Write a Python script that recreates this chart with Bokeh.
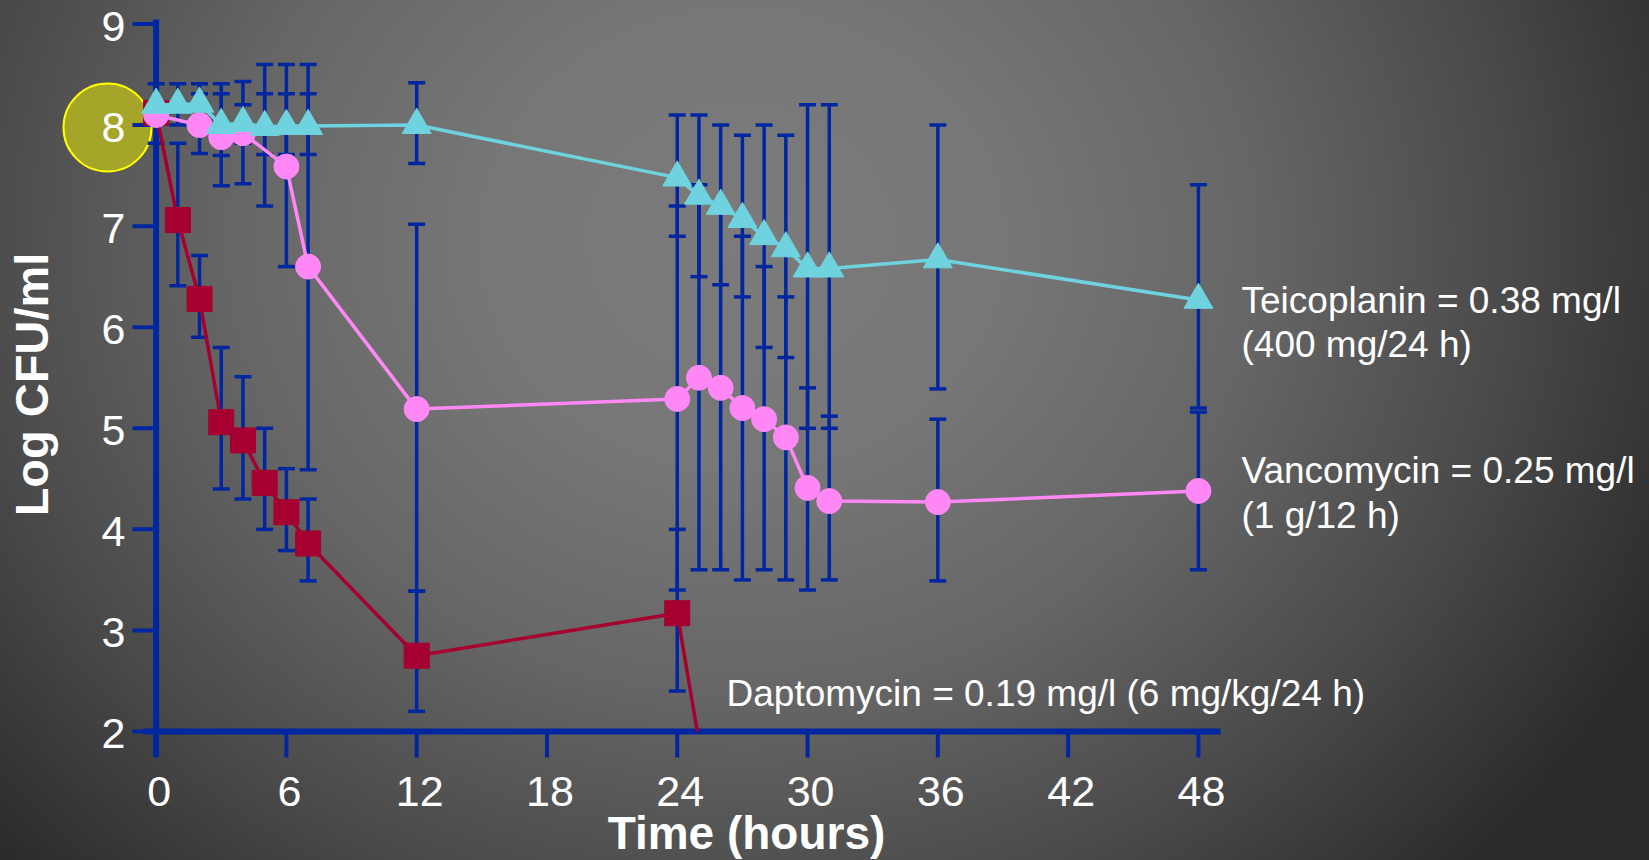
import numpy as np
from bokeh.plotting import figure
from bokeh.models import Range1d
from bokeh.core.properties import value
from bokeh.embed import file_html
from bokeh.resources import INLINE

# ---------------- data ----------------
x_ticks = [0, 6, 12, 18, 24, 30, 36, 42, 48]
y_ticks = [2, 3, 4, 5, 6, 7, 8, 9]

teic_t = [0, 1, 2, 3, 4, 5, 6, 7, 12, 24, 25, 26, 27, 28, 29, 30, 31, 36, 48]
teic_v = [8.2, 8.2, 8.21, 8.0, 8.02, 7.98, 7.99, 7.99, 8.0, 7.48, 7.3, 7.2, 7.07, 6.9, 6.78, 6.58, 6.58, 6.67, 6.27]
teic_err_t = [1, 2, 3, 4, 5, 6, 7, 12, 24, 25, 26, 27, 28, 29, 30, 31, 36, 48]
teic_err_lo = [8.0, 8.0, 7.70, 7.82, 7.71, 7.71, 7.71, 7.62, 6.90, 6.50, 6.42, 6.30, 5.80, 5.70, 5.00, 5.00, 5.39, 5.20]
teic_err_hi = [8.41, 8.41, 8.31, 8.20, 8.31, 8.31, 8.31, 8.42, 8.10, 8.10, 8.00, 7.90, 8.00, 7.90, 8.20, 8.20, 8.00, 7.41]

vanco_t = [0, 2, 3, 4, 6, 7, 12, 24, 25, 26, 27, 28, 29, 30, 31, 36, 48]
vanco_v = [8.1, 8.0, 7.88, 7.92, 7.59, 6.6, 5.19, 5.29, 5.5, 5.4, 5.2, 5.09, 4.91, 4.41, 4.28, 4.27, 4.38]
vanco_err_t = [0, 2, 3, 4, 5, 6, 7, 12, 24, 25, 26, 27, 28, 29, 30, 31, 36, 48]
vanco_err_lo = [7.82, 7.72, 7.40, 7.42, 7.20, 6.60, 4.59, 3.39, 3.40, 3.60, 3.60, 3.50, 3.60, 3.50, 3.40, 3.50, 3.49, 3.60]
vanco_err_hi = [8.41, 8.31, 8.41, 8.43, 8.60, 8.60, 8.60, 7.02, 7.20, 7.41, 7.20, 6.90, 6.60, 6.30, 5.40, 5.12, 5.09, 5.16]

dapto_t = [0, 1, 2, 3, 4, 5, 6, 7, 12, 24, 25]
dapto_v = [8.12, 7.06, 6.28, 5.06, 4.88, 4.46, 4.17, 3.86, 2.75, 3.17, 1.9]
dapto_err_t = [1, 2, 3, 4, 5, 6, 7, 12, 24]
dapto_err_lo = [6.41, 5.90, 4.40, 4.30, 4.00, 3.79, 3.49, 2.20, 2.40]
dapto_err_hi = [7.82, 6.71, 5.80, 5.51, 5.00, 4.60, 4.30, 3.39, 4.00]

# ---------------- layout / style ----------------
W, H = 1649, 860
X0_PX, PX_PER_H = 155.6, 21.715      # pixel of t = 0, pixels per hour
Y2_PX, PX_PER_LOG = 731.0, 101.07    # pixel of log = 2, pixels per log unit

def px_x(px):
    return (px - X0_PX) / PX_PER_H

def px_y(py):
    return y_ticks[0] + (Y2_PX - py) / PX_PER_LOG

BLUE = "#0027a0"
CYAN = "#6fd3df"
PINK = "#ff88f6"
RED = "#a50030"
FONT = value("Liberation Sans")

p = figure(width=W, height=H, title=None,
           x_range=Range1d(px_x(0), px_x(W)), y_range=Range1d(px_y(H), px_y(0)),
           x_axis_location=None, y_axis_location=None,
           output_backend="svg", toolbar_location=None, min_border=0)
p.background_fill_color = None
p.border_fill_color = None
p.outline_line_color = None
p.grid.visible = False
p.styles = {"background": "radial-gradient(ellipse 62% 105% at 45% 28%, #7b7b7b 0%, #777777 25%, #666666 50%, #4a4a4a 75%, #2a2a2a 100%)"}
p.stylesheets = ["text[font-size='37px'] { filter: drop-shadow(3px 3px 2px rgba(0,0,0,0.85)); }"]

# highlight circle behind the "8" tick label
p.scatter(x=[px_x(107)], y=[8 - 0.024], marker="circle", size=88,
          fill_color="#a5a52a", line_color="#ffff00", line_width=2)

# axis lines (x axis at log 2, y axis at t 0)
p.segment(x0=[px_x(142)], y0=[y_ticks[0]], x1=[px_x(1220)], y1=[y_ticks[0]],
          line_color=BLUE, line_width=6)
p.segment(x0=[x_ticks[0]], y0=[px_y(756)], x1=[x_ticks[0]], y1=[px_y(19)],
          line_color=BLUE, line_width=6)

# ticks
p.segment(x0=[px_x(132)] * len(y_ticks), y0=y_ticks, x1=[x_ticks[0]] * len(y_ticks), y1=y_ticks,
          line_color=BLUE, line_width=4)
p.segment(x0=x_ticks, y0=[y_ticks[0]] * len(x_ticks), x1=x_ticks, y1=[px_y(757)] * len(x_ticks),
          line_color=BLUE, line_width=4)

# tick labels
p.text(x=x_ticks, y=[px_y(791)] * len(x_ticks), text=[str(t) for t in x_ticks],
       text_color="white", text_font=FONT, text_font_size="43px",
       text_align="center", text_baseline="alphabetic", x_offset=3)
p.text(x=[px_x(125)] * len(y_ticks), y=y_ticks, text=[str(t) for t in y_ticks],
       text_color="white", text_font=FONT, text_font_size="43px",
       text_align="right", text_baseline="middle", y_offset=2)

# error bars
for et, lo, hi in [(dapto_err_t, dapto_err_lo, dapto_err_hi),
                   (vanco_err_t, vanco_err_lo, vanco_err_hi),
                   (teic_err_t, teic_err_lo, teic_err_hi)]:
    p.segment(x0=et, y0=lo, x1=et, y1=hi, line_color=BLUE, line_width=3.5)
    p.scatter(x=et, y=lo, marker="dash", size=17, line_color=BLUE, line_width=3.5)
    p.scatter(x=et, y=hi, marker="dash", size=17, line_color=BLUE, line_width=3.5)

# daptomycin: the curve leaves the chart below log 2, so clip it at the x axis
floor = y_ticks[0]
d_lx, d_ly, d_mx, d_my = [], [], [], []
for i, (t, v) in enumerate(zip(dapto_t, dapto_v)):
    if v >= floor:
        d_lx.append(t); d_ly.append(v); d_mx.append(t); d_my.append(v)
    else:
        t0, v0 = dapto_t[i - 1], dapto_v[i - 1]
        d_lx.append(t0 + (t - t0) * (v0 - floor) / (v0 - v)); d_ly.append(floor)
        break

p.line(d_lx, d_ly, line_color=RED, line_width=3.5)
p.scatter(d_mx, d_my, marker="square", size=25, fill_color=RED, line_color=RED)
p.line(vanco_t, vanco_v, line_color=PINK, line_width=3.5)
p.scatter(vanco_t, vanco_v, marker="circle", size=25, fill_color=PINK, line_color=PINK)
p.line(teic_t, teic_v, line_color=CYAN, line_width=3.5)
p.scatter(teic_t, teic_v, marker="triangle", size=29, fill_color=CYAN, line_color=CYAN)

# annotation texts
ann_text = ["Teicoplanin = 0.38 mg/l", "(400 mg/24 h)", "Vancomycin = 0.25 mg/l", "(1 g/12 h)",
            "Daptomycin = 0.19 mg/l (6 mg/kg/24 h)"]
ann_x = [px_x(1241), px_x(1241), px_x(1241), px_x(1241), px_x(726)]
ann_y = [px_y(300), px_y(344), px_y(470), px_y(515), px_y(693)]
p.text(x=ann_x, y=ann_y, text=ann_text, text_color="white", text_font=FONT,
       text_font_size="37px", text_align="left", text_baseline="middle")

# axis titles
p.text(x=[px_x(746)], y=[px_y(832)], text=["Time (hours)"], text_color="white", text_font=FONT,
       text_font_size="46px", text_font_style="bold", text_align="center", text_baseline="alphabetic")
p.text(x=[px_x(31)], y=[px_y(384)], text=["Log CFU/ml"], text_color="white", text_font=FONT,
       text_font_size="47px", text_font_style="bold", text_align="center", text_baseline="alphabetic",
       angle=np.pi / 2)

open("out.html", "w").write(file_html(p, INLINE))
